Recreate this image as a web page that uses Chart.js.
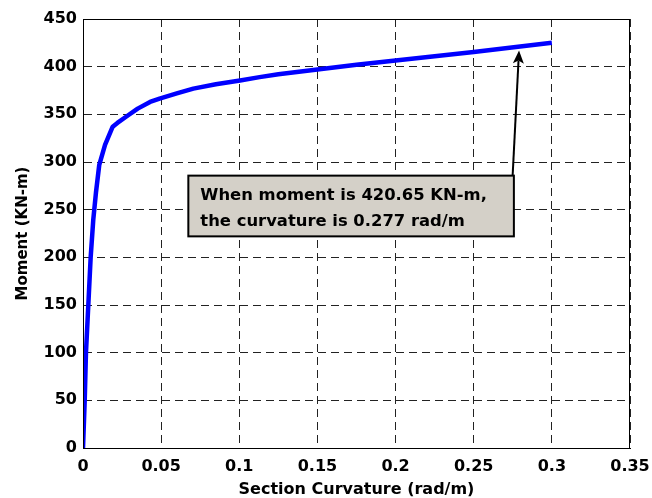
<!DOCTYPE html>
<html>
<head>
<meta charset="utf-8">
<script src="https://cdn.jsdelivr.net/npm/chart.js@4/dist/chart.umd.min.js"></script>
<style>
  html, body { margin: 0; padding: 0; background: #fff; }
  #wrap { width: 652px; height: 498px; position: relative; }
</style>
</head>
<body>
<div id="wrap"><canvas id="c" width="652" height="498"></canvas></div>
<script>
// ---- data ----
const curvature = [0, 0.0011, 0.0019, 0.0034, 0.0049, 0.0066, 0.0083, 0.0104, 0.0141, 0.019, 0.022, 0.028, 0.035, 0.0429, 0.049, 0.06, 0.0706, 0.085, 0.1005, 0.113, 0.125, 0.15, 0.175, 0.2, 0.225, 0.25, 0.277, 0.3];
const moment    = [0, 50, 100, 150, 200, 240, 268, 297, 318, 337, 341, 348, 356, 363, 366.5, 372, 377, 381.5, 385.5, 389, 392, 397, 402, 406.5, 411, 415.5, 420.65, 425];
const xTickValues = [0, 0.05, 0.1, 0.15, 0.2, 0.25, 0.3, 0.35];
const xTickLabels = ['0', '0.05', '0.1', '0.15', '0.2', '0.25', '0.3', '0.35'];
const yTickValues = [0, 50, 100, 150, 200, 250, 300, 350, 400, 450];
const yTickLabels = ['0', '50', '100', '150', '200', '250', '300', '350', '400', '450'];
const xTitle = 'Section Curvature (rad/m)';
const yTitle = 'Moment (KN-m)';
const noteLines = ['When moment is 420.65 KN-m,', 'the curvature is 0.277 rad/m'];
// annotation anchor points in data units
const noteBox = { x0: 0.0674, y0: 285.7, x1: 0.2757, y1: 222 };
const arrowFrom = { x: 0.2749, y: 285.7 };
const arrowTo   = { x: 0.279, y: 417 };

const FONT = "'DejaVu Sans', 'Liberation Sans', Arial, sans-serif";

const points = curvature.map((c, i) => ({ x: c, y: moment[i] }));

const frameAndNote = {
  id: 'frameAndNote',
  afterDatasetsDraw(chart) {
    const { ctx, chartArea: a, scales: { x, y } } = chart;
    ctx.save();
    // box frame (top/right)
    ctx.strokeStyle = '#000';
    ctx.lineWidth = 1;
    ctx.setLineDash([]);
    ctx.strokeRect(Math.round(a.left) + 0.5, Math.round(a.top) + 0.5, Math.round(a.right - a.left) - 1, Math.round(a.bottom - a.top));
    // arrow
    const fx = x.getPixelForValue(arrowFrom.x), fy = y.getPixelForValue(arrowFrom.y);
    const tx = x.getPixelForValue(arrowTo.x), ty = y.getPixelForValue(arrowTo.y);
    const ang = Math.atan2(ty - fy, tx - fx);
    const headLen = 13, headW = 5.5;
    const bx = tx - headLen * Math.cos(ang), by = ty - headLen * Math.sin(ang);
    ctx.strokeStyle = '#000';
    ctx.lineWidth = 2;
    ctx.beginPath();
    ctx.moveTo(fx, fy);
    ctx.lineTo(bx + 3 * Math.cos(ang), by + 3 * Math.sin(ang));
    ctx.stroke();
    ctx.fillStyle = '#000';
    ctx.beginPath();
    ctx.moveTo(tx, ty);
    ctx.lineTo(bx - headW * Math.sin(ang), by + headW * Math.cos(ang));
    ctx.lineTo(bx + 3 * Math.cos(ang), by + 3 * Math.sin(ang));
    ctx.lineTo(bx + headW * Math.sin(ang), by - headW * Math.cos(ang));
    ctx.closePath();
    ctx.fill();
    // note box
    const bx0 = x.getPixelForValue(noteBox.x0), by0 = y.getPixelForValue(noteBox.y0);
    const bx1 = x.getPixelForValue(noteBox.x1), by1 = y.getPixelForValue(noteBox.y1);
    ctx.fillStyle = '#d4d0c8';
    ctx.fillRect(bx0, by0, bx1 - bx0, by1 - by0);
    ctx.lineWidth = 2;
    ctx.strokeStyle = '#000';
    ctx.strokeRect(bx0, by0, bx1 - bx0, by1 - by0);
    ctx.fillStyle = '#000';
    ctx.font = "bold 16.4px " + FONT;
    ctx.textBaseline = 'alphabetic';
    ctx.textAlign = 'left';
    ctx.fillText(noteLines[0], bx0 + 12, by0 + 24);
    ctx.fillText(noteLines[1], bx0 + 12, by0 + 50);
    ctx.restore();
  }
};

new Chart(document.getElementById('c'), {
  type: 'scatter',
  data: {
    datasets: [{
      data: points,
      showLine: true,
      borderColor: '#0000ff',
      backgroundColor: '#0000ff',
      borderWidth: 4.5,
      pointRadius: 0,
      pointHoverRadius: 0,
      tension: 0,
      borderCapStyle: 'butt',
      borderJoinStyle: 'round'
    }]
  },
  options: {
    responsive: false,
    animation: false,
    devicePixelRatio: 1,
    layout: { padding: { top: 19, right: 22, left: 0, bottom: 0 } },
    plugins: { legend: { display: false }, tooltip: { enabled: false } },
    scales: {
      x: {
        type: 'linear',
        min: 0, max: 0.35,
        afterBuildTicks(s) { s.ticks = xTickValues.map(v => ({ value: v })); },
        afterFit(s) { s.height = 50; s.paddingLeft = 0; s.paddingRight = 0; },
        ticks: {
          autoSkip: false,
          maxRotation: 0,
          padding: 9,
          color: '#000',
          font: { family: FONT, size: 16, weight: 'bold' },
          callback: (v, i) => xTickLabels[i]
        },
        grid: { color: '#222', lineWidth: 1, drawTicks: false },
        border: { display: true, color: '#000', width: 1, dash: [8, 5] },
        title: {
          display: true, text: xTitle, color: '#000',
          font: { family: FONT, size: 16, weight: 'bold' },
          padding: { top: 0, bottom: -1 }
        }
      },
      y: {
        type: 'linear',
        min: 0, max: 450,
        afterBuildTicks(s) { s.ticks = yTickValues.map(v => ({ value: v })); },
        afterFit(s) { s.width = 83; s.paddingTop = 0; s.paddingBottom = 0; },
        ticks: {
          autoSkip: false,
          padding: 6,
          color: '#000',
          font: { family: FONT, size: 16, weight: 'bold' },
          callback: (v, i) => yTickLabels[i]
        },
        grid: { color: '#222', lineWidth: 1, drawTicks: false },
        border: { display: true, color: '#000', width: 1, dash: [8, 5] },
        title: {
          display: true, text: yTitle, color: '#000',
          font: { family: FONT, size: 15, weight: 'bold' },
          padding: { top: 14, bottom: 0 }
        }
      }
    }
  },
  plugins: [frameAndNote]
});
</script>
</body>
</html>
